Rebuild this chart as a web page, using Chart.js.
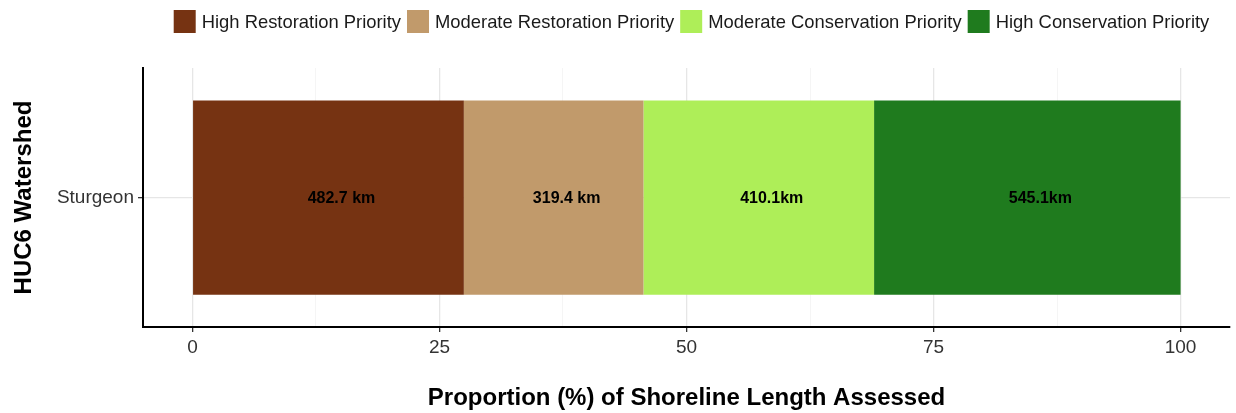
<!DOCTYPE html>
<html>
<head>
<meta charset="utf-8">
<script src="https://cdn.jsdelivr.net/npm/chart.js@4"></script>
<style>
  html, body { margin: 0; padding: 0; background: #fff; }
  #wrap { width: 1236px; height: 413px; }
</style>
</head>
<body>
<div id="wrap"><canvas id="barChart" width="1236" height="413"></canvas></div>
<script>
const watersheds = ['Sturgeon'];
const categories = ['High Restoration Priority', 'Moderate Restoration Priority', 'Moderate Conservation Priority', 'High Conservation Priority'];
const lengthsKm = [482.7, 319.4, 410.1, 545.1];
const kmLabels = ['482.7 km', '319.4 km', '410.1km', '545.1km'];
const colors = ['#763312', '#C19A6B', '#AEEE58', '#1F7B1E'];
const xTicks = [0, 12.5, 25, 37.5, 50, 62.5, 75, 87.5, 100];

const total = lengthsKm.reduce((a, b) => a + b, 0);
const FONT = '"Liberation Sans", Arial, sans-serif';

// custom legend centred over the panel, like ggplot
const legendPlugin = {
  id: 'topLegend',
  afterDraw(chart) {
    const c = chart.ctx;
    const box = 22, gapText = 6, gapItem = 6;
    c.save();
    c.font = '18.4px ' + FONT;
    const widths = categories.map(t => box + gapText + c.measureText(t).width);
    const full = widths.reduce((a, b) => a + b, 0) + gapItem * (categories.length - 1);
    const area = chart.chartArea;
    let x = (area.left + area.right) / 2 + 5 - full / 2;
    const yMid = 21.5;
    categories.forEach((t, i) => {
      c.fillStyle = colors[i];
      c.fillRect(x, yMid - 11.5, box, 23);
      c.fillStyle = '#1a1a1a';
      c.textBaseline = 'middle';
      c.textAlign = 'left';
      c.fillText(t, x + box + gapText, yMid + 1);
      x += widths[i] + gapItem;
    });
    c.restore();
  }
};

// km labels in every segment
const kmLabelPlugin = {
  id: 'kmLabels',
  afterDatasetsDraw(chart) {
    const c = chart.ctx;
    c.save();
    c.font = 'bold 16px ' + FONT;
    c.fillStyle = '#000';
    c.textAlign = 'center';
    c.textBaseline = 'middle';
    chart.data.datasets.forEach((ds, i) => {
      chart.getDatasetMeta(i).data.forEach(bar => {
        const p = bar.getProps(['x', 'y', 'base'], true);
        c.fillText(kmLabels[i], (p.x + p.base) / 2 + 13, p.y + 1);
      });
    });
    c.restore();
  }
};

const ctx = document.getElementById('barChart').getContext('2d');

new Chart(ctx, {
  type: 'bar',
  data: {
    labels: watersheds,
    datasets: categories.map((name, i) => ({
      label: name,
      data: [lengthsKm[i] / total * 100],
      backgroundColor: colors[i],
      borderWidth: 0,
      barPercentage: 0.75,
      categoryPercentage: 1
    }))
  },
  options: {
    indexAxis: 'y',
    responsive: false,
    animation: false,
    layout: { padding: { top: 68, right: 6, left: 0, bottom: 0 } },
    plugins: {
      legend: { display: false },
      tooltip: { enabled: false }
    },
    scales: {
      x: {
        stacked: true,
        min: -5,
        max: 105,
        afterBuildTicks: scale => { scale.ticks = xTicks.map(v => ({ value: v })); },
        afterFit: scale => { scale.height = 86; },
        ticks: {
          autoSkip: false,
          maxRotation: 0,
          padding: 4,
          color: '#333',
          font: { family: FONT, size: 19 },
          callback: v => (v % 25 === 0 ? String(v) : '')
        },
        grid: {
          color: c => (c.tick && c.tick.value % 25 === 0 ? '#e6e6e6' : '#f2f2f2'),
          lineWidth: c => (c.tick && c.tick.value % 25 === 0 ? 1.3 : 0.8),
          tickColor: c => (c.tick && c.tick.value % 25 === 0 ? '#333' : 'rgba(0,0,0,0)'),
          tickLength: 5,
          tickWidth: 1.3
        },
        border: { color: '#000', width: 2 },
        title: {
          display: true,
          text: 'Proportion (%) of Shoreline Length Assessed',
          color: '#000',
          font: { family: FONT, size: 24, weight: 'bold' },
          padding: { top: 0, bottom: 0 }
        }
      },
      y: {
        stacked: true,
        offset: true,
        afterFit: scale => { scale.width = 143; },
        ticks: {
          padding: 4,
          color: '#333',
          font: { family: FONT, size: 19 }
        },
        grid: {
          offset: false,
          color: '#e6e6e6',
          lineWidth: 1.3,
          tickColor: '#333',
          tickLength: 5,
          tickWidth: 1.3
        },
        border: { color: '#000', width: 2 },
        title: {
          display: true,
          text: 'HUC6 Watershed',
          color: '#000',
          font: { family: FONT, size: 24, weight: 'bold' },
          padding: { top: 10, bottom: 0 }
        }
      }
    }
  },
  plugins: [legendPlugin, kmLabelPlugin]
});
</script>
</body>
</html>
